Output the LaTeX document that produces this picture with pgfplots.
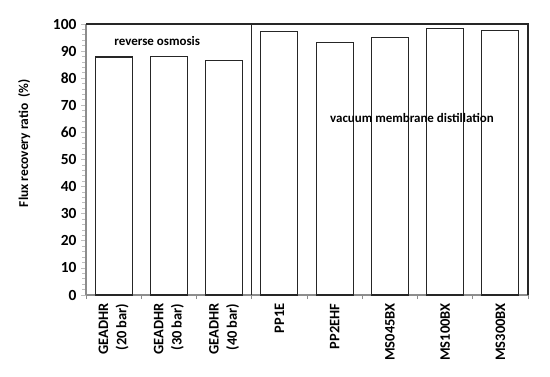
\documentclass[border=0pt]{standalone}
\usepackage{fontspec}
\setmainfont{Carlito}
\usepackage{pgfplots}
\pgfplotsset{compat=1.18}
\definecolor{axgray}{RGB}{140,140,140}
\definecolor{tkgray}{RGB}{190,190,190}
\begin{document}
\begin{tikzpicture}
\begin{axis}[
  name=ax,
  scale only axis,
  width=442bp, height=271bp,
  xmin=-0.5, xmax=7.5,
  ymin=0, ymax=100,
  ytick={0,10,...,100},
  minor y tick num=4,
  xtick={0,...,7},
  xticklabels={{GEADHR\\(20 bar)},{GEADHR\\(30 bar)},{GEADHR\\(40 bar)},PP1E,PP2EHF,MS045BX,MS100BX,MS300BX},
  minor xtick={-0.5,0.5,...,7.5},
  x tick style={draw=none},
  minor x tick style={draw=axgray, line width=0.8pt},
  tick align=outside,
  major tick length=5bp,
  minor tick length=4bp,
  y tick style={draw=tkgray, line width=0.8pt},
  axis x line*=bottom,
  axis y line*=left,
  axis line style={draw=axgray, line width=1.2pt, -},
  /pgf/number format/assume math mode=true,
  yticklabel style={font=\fontsize{15.5}{17}\selectfont\bfseries, xshift=-1bp},
  xticklabel style={font=\fontsize{14.5}{18.5}\selectfont\bfseries, rotate=90, anchor=east, align=right},
  ylabel={Flux recovery ratio~~(\%)},
  ylabel style={font=\fontsize{13.5}{15}\selectfont\bfseries, at={(axis description cs:-0.14,0.56)}, anchor=center},
  ybar, bar width=37bp,
  clip=false,
]
\addplot[draw=black!85, fill=white, line width=1.2pt] coordinates {
  (0,87.8) (1,87.9) (2,86.6) (3,97.3) (4,93.1) (5,94.9) (6,98.3) (7,97.5)
};
\draw[black!85, line width=1.1pt] (axis cs:-0.5,100) -- (axis cs:7.5,100) -- (axis cs:7.5,0);
\draw[black!85, line width=1.1pt] (axis cs:2.5,100) -- (axis cs:2.5,0);
\node[font=\fontsize{13}{15}\selectfont\bfseries] at (axis cs:0.79,93.6) {reverse osmosis};
\node[font=\fontsize{13}{15}\selectfont\bfseries] at (axis cs:5.4,65.5) {vacuum membrane distillation};
\end{axis}
\path ([xshift=-86bp,yshift=-81bp]ax.south west) rectangle ([xshift=22bp,yshift=24bp]ax.north east);
\end{tikzpicture}
\end{document}
